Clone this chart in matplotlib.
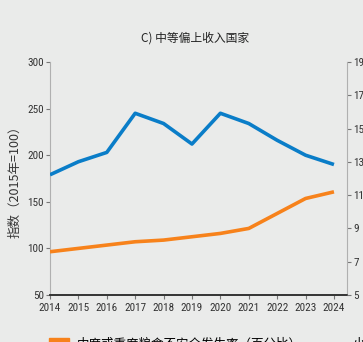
import matplotlib

matplotlib.use("Agg")
import matplotlib.pyplot as plt  # noqa: E402
from matplotlib.lines import Line2D  # noqa: E402
from matplotlib.patches import Patch  # noqa: E402

BG = "#eaebea"
BLUE, ORANGE = "#0a7dc8", "#f7821b"
NUM_FONT = ["Roboto Condensed", "Liberation Sans Narrow", "Roboto", "DejaVu Sans"]
CJK_FONT = ["Noto Sans CJK SC", "DejaVu Sans"]

years = list(range(2014, 2025))
price_index = [179, 193, 203, 245, 234, 212, 245, 234, 216, 200, 190]
insecurity_pct = [7.6, 7.8, 8.0, 8.2, 8.3, 8.5, 8.7, 9.0, 9.9, 10.8, 11.2]
left_ticks = [50, 100, 150, 200, 250, 300]
right_ticks = [5, 7, 9, 11, 13, 15, 17, 19]

plt.rcParams["font.family"] = CJK_FONT

fig = plt.figure(figsize=(3.63, 3.42), dpi=100, facecolor=BG)
ax = fig.add_axes([0.1377, 0.1374, 0.8183, 0.6813], facecolor=BG)
ax2 = ax.twinx()

ax.plot(years, price_index, color=BLUE, lw=2.6, solid_capstyle="butt", zorder=3)
ax2.plot(years, insecurity_pct, color=ORANGE, lw=2.6, solid_capstyle="butt", zorder=3)

ax.set_ylim(50, 300)
ax2.set_ylim(5, 19)
ax.set_xlim(2014, 2024.46)
ax.set_yticks(left_ticks)
ax2.set_yticks(right_ticks)
ax.set_xticks(years)

for a in (ax, ax2):
    a.spines["top"].set_visible(False)
    a.spines["left"].set_color("#b0b0b0")
    a.spines["right"].set_color("#b0b0b0")
    a.spines["bottom"].set_color("#333333")
    a.spines["bottom"].set_linewidth(1.2)
    a.tick_params(length=3, width=0.8, color="#777777", labelsize=8,
                  labelcolor="#333333", pad=1.5)
ax2.spines["left"].set_visible(False)
ax.spines["right"].set_visible(False)
ax.tick_params(axis="x", length=3, pad=3)

for lbl in ax.get_xticklabels() + ax.get_yticklabels() + ax2.get_yticklabels():
    lbl.set_family(NUM_FONT)

ax.set_ylabel("指数（2015年=100）", fontsize=9, color="#333333", labelpad=4)
fig.text(0.537, 0.89, "C) 中等偏上收入国家", ha="center", va="center",
         fontsize=8.5, color="#222222")

handles = [Patch(color=ORANGE), Line2D([], [], color=BLUE, lw=2.6)]
labels = ["中度或重度粮食不安全发生率（百分比）", "小麦价格指数（2015年=100）"]
fig.legend(handles, labels, loc="upper left", bbox_to_anchor=(0.135, 0.012),
           ncol=2, frameon=False, fontsize=9, handlelength=1.6,
           handleheight=0.9, columnspacing=1.9, handletextpad=0.6,
           borderaxespad=0, borderpad=0)

fig.savefig("out.png", dpi=100, facecolor=BG)
